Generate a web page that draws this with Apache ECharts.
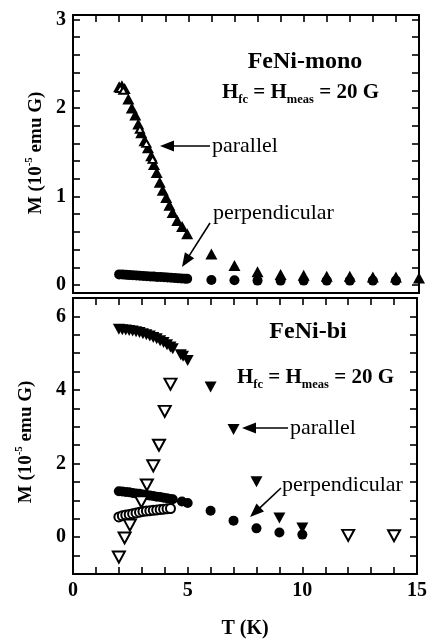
<!DOCTYPE html>
<html>
<head>
<meta charset="utf-8">
<script src="https://cdn.jsdelivr.net/npm/echarts@6/dist/echarts.min.js"></script>
<style>
  html, body { margin: 0; padding: 0; background: #fff; }
  #chart { width: 430px; height: 640px; }
</style>
</head>
<body>
<div id="chart"></div>
<script>
// ---- data: magnetisation M (1e-5 emu G) vs temperature T (K) ----
// FeNi-mono, field parallel (filled triangles)
const monoParallel = [
  [2.0,2.24],[2.12,2.25],[2.24,2.22],[2.4,2.1],[2.55,2.0],[2.7,1.92],[2.83,1.82],[2.96,1.72],
  [3.1,1.63],[3.25,1.55],[3.39,1.46],[3.51,1.36],[3.63,1.27],[3.76,1.16],[3.89,1.07],[4.04,0.99],
  [4.18,0.9],[4.32,0.82],[4.52,0.73],[4.73,0.66],[4.95,0.58],
  [6,0.35],[7,0.22],[8,0.15],[9,0.12],[10,0.11],[11,0.1],[12,0.1],[13,0.09],[14,0.09],[15,0.08]
];
// FeNi-mono, field parallel, second run (open triangles)
const monoParallelOpen = [[2.05,2.22],[2.18,2.2],[2.9,1.76],[3.18,1.6],[3.45,1.42]];
// FeNi-mono, field perpendicular (filled circles)
const monoPerp = [
  [2.0,0.12],[2.15,0.118],[2.3,0.115],[2.45,0.112],[2.6,0.11],[2.75,0.107],[2.9,0.105],[3.05,0.102],
  [3.2,0.1],[3.35,0.097],[3.5,0.095],[3.65,0.092],[3.8,0.09],[3.95,0.087],[4.1,0.085],[4.25,0.082],
  [4.4,0.08],[4.55,0.078],[4.7,0.075],[4.85,0.072],[4.95,0.07],
  [6,0.056],[7,0.054],[8,0.05],[9,0.05],[10,0.05],[11,0.05],[12,0.05],[13,0.05],[14,0.05]
];
// FeNi-bi, field parallel (filled down-triangles)
const biParallel = [
  [2.0,5.65],[2.15,5.64],[2.3,5.63],[2.45,5.62],[2.6,5.6],[2.75,5.58],[2.9,5.56],[3.05,5.53],
  [3.2,5.5],[3.35,5.47],[3.5,5.43],[3.65,5.39],[3.8,5.34],[3.95,5.29],[4.1,5.23],[4.25,5.17],
  [4.35,5.12],[4.7,4.96],[4.8,4.92],[5.0,4.8],
  [6,4.08],[7,2.93],[8,1.51],[9,0.52],[10,0.25]
];
// FeNi-bi, field parallel, second run (open down-triangles)
const biParallelOpen = [
  [2.0,-0.54],[2.25,-0.02],[2.48,0.33],[2.98,0.96],[3.22,1.42],[3.5,1.94],[3.75,2.5],
  [4.0,3.42],[4.25,4.16],[12,0.05],[14,0.04]
];
// FeNi-bi, field perpendicular (filled circles)
const biPerp = [
  [2.0,1.25],[2.15,1.24],[2.3,1.23],[2.45,1.22],[2.6,1.2],[2.75,1.19],[2.9,1.18],[3.05,1.16],
  [3.2,1.15],[3.35,1.13],[3.5,1.12],[3.65,1.1],[3.8,1.09],[3.95,1.07],[4.1,1.06],[4.25,1.04],
  [4.35,1.03],[4.75,0.97],[5.0,0.93],[6,0.72],[7,0.45],[8,0.24],[9,0.13],[10,0.07]
];
// FeNi-bi, field perpendicular, second run (open circles)
const biPerpOpen = [
  [2.0,0.55],[2.15,0.58],[2.3,0.6],[2.45,0.62],[2.6,0.64],[2.75,0.66],[2.9,0.68],[3.05,0.7],
  [3.2,0.71],[3.35,0.72],[3.5,0.73],[3.65,0.74],[3.8,0.75],[3.95,0.76],[4.1,0.77],[4.25,0.78]
];

// ---- ticks ----
const tTickLabels = [0, 5, 10, 15];
const tTicks = [1,2,3,4,5,6,7,8,9,10,11,12,13,14];
const monoTickLabels = [0, 1, 2, 3];
const monoTicks = [0,0.2,0.4,0.6,0.8,1,1.2,1.4,1.6,1.8,2,2.2,2.4,2.6,2.8,3];
const biTickLabels = [0, 2, 4, 6];
const biTicks = [-0.5,0,0.5,1,1.5,2,2.5,3,3.5,4,4.5,5,5.5,6];

const FONT = '"Liberation Serif", "Times New Roman", serif';
const INK = '#000';

const chart = echarts.init(document.getElementById('chart'), null, { renderer: 'canvas' });

function axisBase(extra) {
  return Object.assign({
    type: 'value',
    axisLine: { show: true, onZero: false, lineStyle: { color: INK, width: 2 } },
    axisTick: { show: false },
    axisLabel: { show: false },
    splitLine: { show: false },
    minorTick: { show: false }
  }, extra);
}
function ticks(values) {
  return { show: true, inside: true, length: 7, customValues: values, lineStyle: { color: INK, width: 1.6 } };
}
function labels(values) {
  return { show: true, customValues: values, color: INK, fontFamily: FONT, fontWeight: 'bold', fontSize: 20, margin: 7 };
}

function arrow(x1, y1, x2, y2) {
  const dx = x2 - x1, dy = y2 - y1, L = Math.hypot(dx, dy);
  const ux = dx / L, uy = dy / L, hl = 14, hw = 5.5;
  const bx = x2 - ux * hl, by = y2 - uy * hl;
  return [
    { type: 'line', shape: { x1: x1, y1: y1, x2: bx + ux * 2, y2: by + uy * 2 }, style: { stroke: INK, lineWidth: 1.6 } },
    { type: 'polygon', shape: { points: [[x2, y2], [bx - uy * hw, by + ux * hw], [bx + uy * hw, by - ux * hw]] }, style: { fill: INK } }
  ];
}
function text(x, y, str, size, weight, align, rich) {
  return {
    type: 'text', x: x, y: y,
    style: { text: str, fill: INK, font: weight + ' ' + size + 'px ' + FONT, align: align || 'left', verticalAlign: 'middle', rich: rich }
  };
}
const hRich = {
  m: { fontFamily: FONT, fontWeight: 'bold', fontSize: 21, lineHeight: 26, fill: INK, color: INK },
  s: { fontFamily: FONT, fontWeight: 'bold', fontSize: 12.5, fill: INK, color: INK, verticalAlign: 'bottom' }
};
const yRich = {
  m: { fontFamily: FONT, fontWeight: 'bold', fontSize: 19, lineHeight: 24, fill: INK, color: INK },
  s: { fontFamily: FONT, fontWeight: 'bold', fontSize: 11, fill: INK, color: INK, verticalAlign: 'top' }
};
function yTitle(x, y) {
  const t = text(x, y, '{m|M (10}{s|-5}{m| emu G)}', 19, 'bold', 'center', yRich);
  t.rotation = Math.PI / 2;
  return t;
}

const graphics = [].concat(
  [
    text(305, 62, 'FeNi-mono', 24, 'bold', 'center'),
    text(222, 93, '{m|H}{s|fc}{m| = H}{s|meas}{m| = 20 G}', 21, 'bold', 'left', hRich),
    text(212, 146, 'parallel', 22, 'normal'),
    text(213, 213, 'perpendicular', 22, 'normal'),
    text(308, 332, 'FeNi-bi', 24, 'bold', 'center'),
    text(237, 378, '{m|H}{s|fc}{m| = H}{s|meas}{m| = 20 G}', 21, 'bold', 'left', hRich),
    text(290, 428, 'parallel', 22, 'normal'),
    text(282, 485, 'perpendicular', 22, 'normal'),
    yTitle(36, 153),
    yTitle(26, 442)
  ],
  arrow(210, 146, 160, 146),
  arrow(210, 223, 182, 267),
  arrow(288, 428, 242, 428),
  arrow(281, 488, 250, 517)
);

const filled = { color: INK, borderColor: INK, borderWidth: 0, opacity: 1 };
const hollow = { color: '#fff', borderColor: INK, borderWidth: 2, opacity: 1 };

function scatter(grid, data, symbol, size, style, rotate, z) {
  return {
    type: 'scatter', xAxisIndex: grid * 2, yAxisIndex: grid * 2, data: data,
    symbol: symbol, symbolSize: size, symbolRotate: rotate || 0,
    itemStyle: style, z: z || 2, clip: true, animation: false,
    emphasis: { disabled: true }
  };
}

chart.setOption({
  animation: false,
  backgroundColor: '#fff',
  grid: [
    { left: 73, right: 11, top: 15, height: 278 },
    { left: 73, right: 11, top: 298, height: 276 }
  ],
  xAxis: [
    axisBase({ gridIndex: 0, position: 'bottom', min: 0, max: 15 }),
    axisBase({ gridIndex: 0, position: 'top', min: 0, max: 15, axisTick: ticks(tTicks) }),
    axisBase({ gridIndex: 1, position: 'bottom', min: 0, max: 15, axisTick: ticks(tTicks), axisLabel: labels(tTickLabels),
      name: 'T (K)', nameLocation: 'middle', nameGap: 45,
      nameTextStyle: { color: INK, fontFamily: FONT, fontWeight: 'bold', fontSize: 20 } }),
    axisBase({ gridIndex: 1, position: 'top', min: 0, max: 15, axisTick: ticks(tTicks) })
  ],
  yAxis: [
    axisBase({ gridIndex: 0, position: 'left', min: -0.09, max: 3.05, axisTick: ticks(monoTicks), axisLabel: labels(monoTickLabels) }),
    axisBase({ gridIndex: 0, position: 'right', min: -0.09, max: 3.05, axisTick: ticks(monoTicks) }),
    axisBase({ gridIndex: 1, position: 'left', min: -1, max: 6.5, axisTick: ticks(biTicks), axisLabel: labels(biTickLabels) }),
    axisBase({ gridIndex: 1, position: 'right', min: -1, max: 6.5, axisTick: ticks(biTicks) })
  ],
  series: [
    scatter(0, monoPerp, 'circle', 10, filled, 0, 2),
    scatter(0, monoParallel, 'triangle', [12, 11], filled, 0, 3),
    scatter(0, monoParallelOpen, 'triangle', [8, 7], hollow, 0, 4),
    scatter(1, biPerp, 'circle', 10, filled, 0, 2),
    scatter(1, biPerpOpen, 'circle', 9, hollow, 0, 3),
    scatter(1, biParallel, 'triangle', [12, 11], filled, 180, 4),
    scatter(1, biParallelOpen, 'triangle', [12, 11], hollow, 180, 5)
  ],
  graphic: graphics
});
</script>
</body>
</html>
